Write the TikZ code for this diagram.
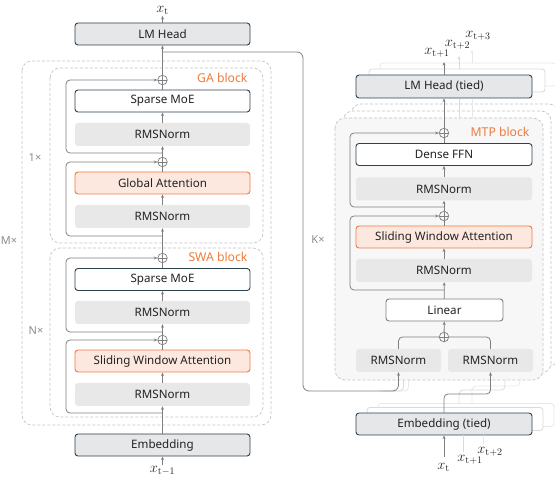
\documentclass[tikz,border=0pt]{standalone}
\usepackage[no-math]{fontspec}
\setmainfont{Noto Sans}
\usetikzlibrary{arrows.meta}
\definecolor{slate}{HTML}{2D4250}
\definecolor{boxgray}{HTML}{E6E7E8}
\definecolor{normgray}{HTML}{E8E8E8}
\definecolor{orng}{HTML}{F07A45}
\definecolor{orngfill}{HTML}{FDE8DF}
\definecolor{orngtext}{HTML}{EE7B3D}
\definecolor{conngray}{HTML}{7F7F7F}
\definecolor{dashgray}{HTML}{C4C4C4}
\definecolor{labgray}{HTML}{8C8C8C}
\definecolor{mtpfill}{HTML}{F7F7F7}
\definecolor{copyA}{HTML}{DADADA}
\definecolor{copyB}{HTML}{E8E8E8}
\definecolor{textdark}{HTML}{222222}
\begin{document}
\begin{tikzpicture}[x=1pt,y=-1pt,
  font=\fontsize{11.6}{13}\selectfont, text=textdark,
  box/.style={draw=slate, line width=0.9pt, rounded corners=3pt, minimum width=175pt, minimum height=22pt, inner sep=0pt},
  graybox/.style={box, fill=boxgray},
  whitebox/.style={box, fill=white},
  orangebox/.style={box, draw=orng, fill=orngfill},
  normbox/.style={fill=normgray, rounded corners=3pt, minimum width=175pt, minimum height=23pt, inner sep=0pt},
  copybox/.style={draw=#1, line width=0.8pt, fill=white, rounded corners=3pt, minimum width=176pt, minimum height=23pt, inner sep=0pt},
  conn/.style={draw=conngray, line width=0.8pt},
  arr/.style={conn, -{Stealth[length=3.6pt,width=3pt]}},
  lightarr/.style={draw=#1, line width=0.8pt, -{Stealth[length=3.6pt,width=3pt]}},
  lightline/.style={draw=#1, line width=0.8pt},
  dashbox/.style={draw=dashgray, line width=0.7pt, dash pattern=on 3pt off 2pt, rounded corners=10pt},
  plusnode/.style={circle, draw=conngray, line width=0.7pt, minimum size=9.5pt, inner sep=0pt,
    path picture={\draw[conngray, line width=0.7pt] (path picture bounding box.north) -- (path picture bounding box.south) (path picture bounding box.west) -- (path picture bounding box.east);}},
  blocklabel/.style={text=orngtext, anchor=east, font=\fontsize{12.2}{14}\selectfont},
  replabel/.style={text=labgray, font=\fontsize{11}{12}\selectfont},
  mathlabel/.style={inner sep=1pt, font=\fontsize{14}{15}\selectfont}
]
\useasboundingbox (0,0) rectangle (555,481);

% ---------------- left column ----------------
\draw[dashbox] (22,61) rectangle (271,425);
\draw[dashbox] (50,68) rectangle (263,243);
\draw[dashbox] (50,248) rectangle (263,417);

\node[graybox] (lmhead) at (162.5,34) {LM Head};
\node[whitebox] (moe1) at (162.5,101) {Sparse MoE};
\node[normbox] (rms1) at (162.5,134.5) {RMSNorm};
\node[orangebox] (ga) at (162.5,183) {Global Attention};
\node[normbox] (rms2) at (162.5,216.5) {RMSNorm};
\node[whitebox] (moe2) at (162.5,279.5) {Sparse MoE};
\node[normbox] (rms3) at (162.5,312.5) {RMSNorm};
\node[orangebox] (swa) at (162.5,361) {Sliding Window Attention};
\node[normbox] (rms4) at (162.5,394.5) {RMSNorm};
\node[graybox] (emb) at (162.5,445) {Embedding};

\node[plusnode] (p1) at (162.5,80) {};
\node[plusnode] (p2) at (162.5,162) {};
\node[plusnode] (p3) at (162.5,258) {};
\node[plusnode] (p4) at (162.5,340) {};

\node[mathlabel] (xt) at (162.5,10.5) {$x_{\mathrm{t}}$};
\node[mathlabel] (xtm1) at (162.5,471) {$x_{\mathrm{t-1}}$};

\node[blocklabel] (galab) at (251,78) {GA block};
\node[blocklabel] (swalab) at (251,257) {SWA block};
\node[replabel] (one) at (35,158) {1×};
\node[replabel] (nx) at (36,331) {N×};
\node[replabel] (mx) at (9,241) {M×};

\draw[arr] (xtm1) -- (emb);
\draw[arr] (emb) -- (rms4);
\draw[arr] (rms4) -- (swa);
\draw[conn] (swa) -- (p4);
\draw[arr] (p4) -- (rms3);
\draw[arr] (rms3) -- (moe2);
\draw[conn] (moe2) -- (p3);
\draw[arr] (p3) -- (rms2);
\draw[arr] (rms2) -- (ga);
\draw[conn] (ga) -- (p2);
\draw[arr] (p2) -- (rms1);
\draw[arr] (rms1) -- (moe1);
\draw[conn] (moe1) -- (p1);
\draw[arr] (p1) -- (lmhead);
\draw[arr] (lmhead) -- (xt);

\coordinate (b4) at (162.5,413);
\coordinate (b3) at (162.5,332);
\coordinate (b2) at (162.5,236);
\coordinate (b1) at (162.5,153);
\draw[arr, rounded corners=4pt] (b4) -| (66,340) -- (p4.west);
\draw[arr, rounded corners=4pt] (b3) -| (66,258) -- (p3.west);
\draw[arr, rounded corners=4pt] (b2) -| (66,162) -- (p2.west);
\draw[arr, rounded corners=4pt] (b1) -| (66,80) -- (p1.west);

% ---------------- right column ----------------
% stacked MTP copies
\draw[dashbox, fill=white] (351,104) rectangle (559,366);
\draw[dashbox, fill=white] (343,111) rectangle (551,373);
% copy connectors (behind main MTP block)
\draw[lightline=copyB, rounded corners=4pt] (472,404) |- (520,386) -- (520,375);
\draw[lightline=copyA, rounded corners=4pt] (459,408) |- (505,390) -- (505,375);
\draw[lightline=copyB, rounded corners=4pt] (385,391) -| (408.5,375);
\draw[lightline=copyA, rounded corners=4pt] (380,391) -| (403.5,375);
\draw[lightline=copyB] (472,118) -- (472,99);
\draw[lightline=copyA] (459,118) -- (459,99);
% main MTP block
\draw[dashbox, fill=mtpfill] (335,118) rectangle (543,380);

% LM head copies
\node[copybox=copyB] (lmtc2) at (468,74.5) {};
\node[copybox=copyA] (lmtc1) at (457,80.5) {};
\node[graybox, minimum width=176pt, minimum height=23pt] (lmt) at (444,86.5) {LM Head (tied)};

% Embedding copies
\node[copybox=copyB] (embc2) at (466,415) {};
\node[copybox=copyA] (embc1) at (455,419) {};
\node[graybox, minimum width=176pt] (embt) at (444,424) {Embedding (tied)};

\node[plusnode] (pM1) at (444,133) {};
\node[whitebox, minimum width=176pt] (dffn) at (444,154.5) {Dense FFN};
\node[normbox, minimum width=176pt] (rmsA) at (444,189) {RMSNorm};
\node[plusnode] (pM2) at (444,216) {};
\node[orangebox, minimum width=176pt] (swaR) at (444,237) {Sliding Window Attention};
\node[normbox, minimum width=176pt] (rmsB) at (444,270.5) {RMSNorm};
\node[box, fill=white, draw=conngray, minimum width=117pt] (linear) at (444.5,310) {Linear};
\node[plusnode] (pM3) at (444,337) {};
\node[normbox, minimum width=85pt] (rmsL) at (398.5,360.5) {RMSNorm};
\node[normbox, minimum width=85pt] (rmsR) at (490.5,360.5) {RMSNorm};

\node[blocklabel] (mtplab) at (533,132) {MTP block};
\node[replabel] (kx) at (318,240) {K×};

% outputs
\coordinate (o1) at (444,62);
\coordinate (o2) at (459,56);
\coordinate (o3) at (472,50);
\draw[arr] (lmt.north) -- (o1);
\draw[lightarr=copyA] (459,69) -- (o2);
\draw[lightarr=copyB] (472,63) -- (o3);
\node[mathlabel] (y1) at (437,53) {$x_{\mathrm{t+1}}$};
\node[mathlabel] (y2) at (457.5,44.5) {$x_{\mathrm{t+2}}$};
\node[mathlabel] (y3) at (478,36) {$x_{\mathrm{t+3}}$};

% inputs
\node[mathlabel] (in1) at (443.5,467) {$x_{\mathrm{t}}$};
\node[mathlabel] (in2) at (470,460) {$x_{\mathrm{t+1}}$};
\node[mathlabel] (in3) at (490,452) {$x_{\mathrm{t+2}}$};
\draw[arr] (444,457) -- (embt.south);
\draw[lightline=copyA] (463,452) -- (463,435.5);
\draw[lightline=copyB] (483,444) -- (483,435.5);

% MTP stream
\draw[arr, rounded corners=4pt] (embt.north) |- (490.5,394) -- (rmsR.south);
\draw[conn, rounded corners=4pt] (rmsL.north) |- (pM3.west);
\draw[conn, rounded corners=4pt] (rmsR.north) |- (pM3.east);
\draw[arr] (pM3) -- (linear);
\draw[arr] (linear) -- (rmsB);
\draw[arr] (rmsB) -- (swaR);
\draw[conn] (swaR) -- (pM2);
\draw[arr] (pM2) -- (rmsA);
\draw[arr] (rmsA) -- (dffn);
\draw[conn] (dffn) -- (pM1);
\draw[arr] (pM1) -- (lmt);

\coordinate (c2) at (444,290);
\coordinate (c1) at (444,207);
\draw[arr, rounded corners=4pt] (c2) -| (350,216) -- (pM2.west);
\draw[arr, rounded corners=4pt] (c1) -| (350,133) -- (pM1.west);

% hidden-state connector from main model to MTP
\coordinate (hb) at (162.5,52);
\draw[arr, rounded corners=6pt] (hb) -| (303,391) -| (rmsL.south);
\end{tikzpicture}
\end{document}
